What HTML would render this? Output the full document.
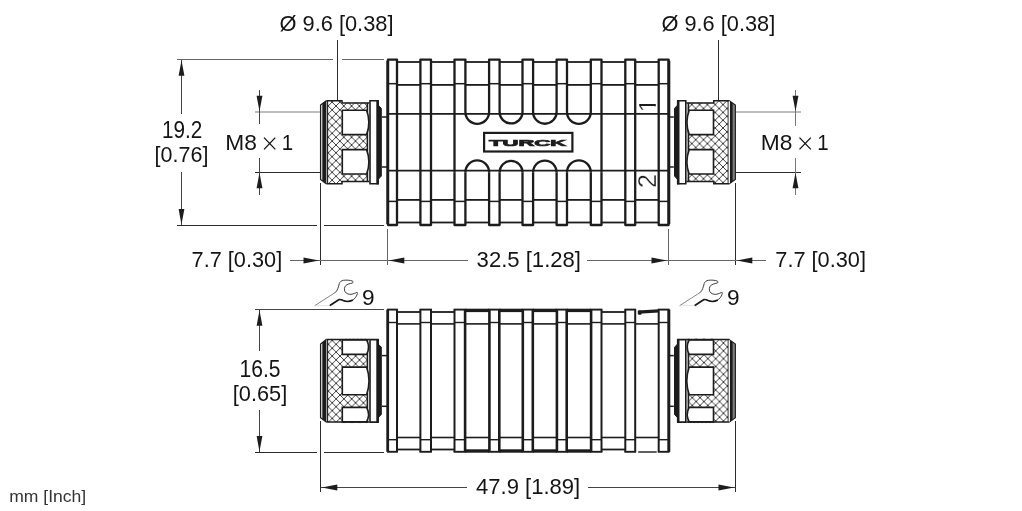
<!DOCTYPE html>
<html lang="en"><head><meta charset="utf-8"><title>Dimension drawing</title>
<style>html,body{margin:0;padding:0;background:#fff}svg{display:block;filter:grayscale(1)}</style></head>
<body>
<svg width="1022" height="511" viewBox="0 0 1022 511">
<defs>
<pattern id="kn" width="7.8" height="7.8" patternUnits="userSpaceOnUse" patternTransform="translate(336,106)"><rect width="7.8" height="7.8" fill="#fff"/><path d="M0,0L7.8,7.8M7.8,0L0,7.8" stroke="#1c1c1c" stroke-width="0.85"/></pattern>
<pattern id="knr" width="7.8" height="7.8" patternUnits="userSpaceOnUse" patternTransform="translate(336.7,108.5)"><rect width="7.8" height="7.8" fill="#fff"/><path d="M0,0L7.8,7.8M7.8,0L0,7.8" stroke="#1c1c1c" stroke-width="0.85"/></pattern>
<pattern id="kn2" width="7.8" height="7.8" patternUnits="userSpaceOnUse" patternTransform="translate(336.1,344.3)"><rect width="7.8" height="7.8" fill="#fff"/><path d="M0,0L7.8,7.8M7.8,0L0,7.8" stroke="#1c1c1c" stroke-width="0.85"/></pattern>
<pattern id="kn2r" width="7.8" height="7.8" patternUnits="userSpaceOnUse" patternTransform="translate(336.25,346.95)"><rect width="7.8" height="7.8" fill="#fff"/><path d="M0,0L7.8,7.8M7.8,0L0,7.8" stroke="#1c1c1c" stroke-width="0.85"/></pattern>
<clipPath id="c1"><rect x="636" y="95" width="17.6" height="20"/><rect x="653" y="104.0" width="4" height="2.3"/></clipPath>
</defs>
<rect width="1022" height="511" fill="#fff"/>
<g id="topbody">
<line x1="397" y1="62.0" x2="420.4" y2="62.0" stroke="#1c1c1c" stroke-width="1.8" />
<line x1="397" y1="222.5" x2="420.4" y2="222.5" stroke="#1c1c1c" stroke-width="1.8" />
<line x1="397" y1="84.9" x2="420.4" y2="84.9" stroke="#1c1c1c" stroke-width="1.8" />
<line x1="397" y1="199.9" x2="420.4" y2="199.9" stroke="#1c1c1c" stroke-width="1.8" />
<line x1="431" y1="62.0" x2="454.5" y2="62.0" stroke="#1c1c1c" stroke-width="1.8" />
<line x1="431" y1="222.5" x2="454.5" y2="222.5" stroke="#1c1c1c" stroke-width="1.8" />
<line x1="431" y1="84.9" x2="454.5" y2="84.9" stroke="#1c1c1c" stroke-width="1.8" />
<line x1="431" y1="199.9" x2="454.5" y2="199.9" stroke="#1c1c1c" stroke-width="1.8" />
<line x1="465.4" y1="62.0" x2="489.1" y2="62.0" stroke="#1c1c1c" stroke-width="1.8" />
<line x1="465.4" y1="222.5" x2="489.1" y2="222.5" stroke="#1c1c1c" stroke-width="1.8" />
<line x1="465.4" y1="84.9" x2="489.1" y2="84.9" stroke="#1c1c1c" stroke-width="1.8" />
<line x1="465.4" y1="199.9" x2="489.1" y2="199.9" stroke="#1c1c1c" stroke-width="1.8" />
<line x1="499.6" y1="62.0" x2="522.5" y2="62.0" stroke="#1c1c1c" stroke-width="1.8" />
<line x1="499.6" y1="222.5" x2="522.5" y2="222.5" stroke="#1c1c1c" stroke-width="1.8" />
<line x1="499.6" y1="84.9" x2="522.5" y2="84.9" stroke="#1c1c1c" stroke-width="1.8" />
<line x1="499.6" y1="199.9" x2="522.5" y2="199.9" stroke="#1c1c1c" stroke-width="1.8" />
<line x1="533.1" y1="62.0" x2="556.6" y2="62.0" stroke="#1c1c1c" stroke-width="1.8" />
<line x1="533.1" y1="222.5" x2="556.6" y2="222.5" stroke="#1c1c1c" stroke-width="1.8" />
<line x1="533.1" y1="84.9" x2="556.6" y2="84.9" stroke="#1c1c1c" stroke-width="1.8" />
<line x1="533.1" y1="199.9" x2="556.6" y2="199.9" stroke="#1c1c1c" stroke-width="1.8" />
<line x1="567" y1="62.0" x2="590.8" y2="62.0" stroke="#1c1c1c" stroke-width="1.8" />
<line x1="567" y1="222.5" x2="590.8" y2="222.5" stroke="#1c1c1c" stroke-width="1.8" />
<line x1="567" y1="84.9" x2="590.8" y2="84.9" stroke="#1c1c1c" stroke-width="1.8" />
<line x1="567" y1="199.9" x2="590.8" y2="199.9" stroke="#1c1c1c" stroke-width="1.8" />
<line x1="601.5" y1="62.0" x2="625.3" y2="62.0" stroke="#1c1c1c" stroke-width="1.8" />
<line x1="601.5" y1="222.5" x2="625.3" y2="222.5" stroke="#1c1c1c" stroke-width="1.8" />
<line x1="601.5" y1="84.9" x2="625.3" y2="84.9" stroke="#1c1c1c" stroke-width="1.8" />
<line x1="601.5" y1="199.9" x2="625.3" y2="199.9" stroke="#1c1c1c" stroke-width="1.8" />
<line x1="635.2" y1="62.0" x2="658.7" y2="62.0" stroke="#1c1c1c" stroke-width="1.8" />
<line x1="635.2" y1="222.5" x2="658.7" y2="222.5" stroke="#1c1c1c" stroke-width="1.8" />
<line x1="635.2" y1="84.9" x2="658.7" y2="84.9" stroke="#1c1c1c" stroke-width="1.8" />
<line x1="635.2" y1="199.9" x2="658.7" y2="199.9" stroke="#1c1c1c" stroke-width="1.8" />
<line x1="388" y1="113.9" x2="668.6" y2="113.9" stroke="#1c1c1c" stroke-width="1.9" />
<line x1="388" y1="170.6" x2="668.6" y2="170.6" stroke="#1c1c1c" stroke-width="1.9" />
<path d="M388,225.0 V59.6 H397 V225.0 Z" fill="none" stroke="#1c1c1c" stroke-width="2.3" stroke-linejoin="round"/>
<line x1="388" y1="83.7" x2="397" y2="83.7" stroke="#1c1c1c" stroke-width="1.5" />
<line x1="388" y1="201.4" x2="397" y2="201.4" stroke="#1c1c1c" stroke-width="1.5" />
<path d="M420.4,225.0 V59.6 H431 V225.0 Z" fill="none" stroke="#1c1c1c" stroke-width="2.3" stroke-linejoin="round"/>
<line x1="420.4" y1="83.7" x2="431" y2="83.7" stroke="#1c1c1c" stroke-width="1.5" />
<line x1="420.4" y1="201.4" x2="431" y2="201.4" stroke="#1c1c1c" stroke-width="1.5" />
<path d="M454.5,112.0 V59.6 H465.4 V112.0" fill="none" stroke="#1c1c1c" stroke-width="2.3" stroke-linejoin="round"/>
<path d="M454.5,172.3 V225.0 H465.4 V172.3" fill="none" stroke="#1c1c1c" stroke-width="2.3" stroke-linejoin="round"/>
<line x1="454.5" y1="112.0" x2="454.5" y2="172.3" stroke="#1c1c1c" stroke-width="2.3" />
<line x1="454.5" y1="83.7" x2="465.4" y2="83.7" stroke="#1c1c1c" stroke-width="1.5" />
<line x1="454.5" y1="201.4" x2="465.4" y2="201.4" stroke="#1c1c1c" stroke-width="1.5" />
<path d="M489.1,112.0 V59.6 H499.6 V112.0" fill="none" stroke="#1c1c1c" stroke-width="2.3" stroke-linejoin="round"/>
<path d="M489.1,172.3 V225.0 H499.6 V172.3" fill="none" stroke="#1c1c1c" stroke-width="2.3" stroke-linejoin="round"/>
<line x1="489.1" y1="83.7" x2="499.6" y2="83.7" stroke="#1c1c1c" stroke-width="1.5" />
<line x1="489.1" y1="201.4" x2="499.6" y2="201.4" stroke="#1c1c1c" stroke-width="1.5" />
<path d="M522.5,112.0 V59.6 H533.1 V112.0" fill="none" stroke="#1c1c1c" stroke-width="2.3" stroke-linejoin="round"/>
<path d="M522.5,172.3 V225.0 H533.1 V172.3" fill="none" stroke="#1c1c1c" stroke-width="2.3" stroke-linejoin="round"/>
<line x1="522.5" y1="83.7" x2="533.1" y2="83.7" stroke="#1c1c1c" stroke-width="1.5" />
<line x1="522.5" y1="201.4" x2="533.1" y2="201.4" stroke="#1c1c1c" stroke-width="1.5" />
<path d="M556.6,112.0 V59.6 H567 V112.0" fill="none" stroke="#1c1c1c" stroke-width="2.3" stroke-linejoin="round"/>
<path d="M556.6,172.3 V225.0 H567 V172.3" fill="none" stroke="#1c1c1c" stroke-width="2.3" stroke-linejoin="round"/>
<line x1="556.6" y1="83.7" x2="567" y2="83.7" stroke="#1c1c1c" stroke-width="1.5" />
<line x1="556.6" y1="201.4" x2="567" y2="201.4" stroke="#1c1c1c" stroke-width="1.5" />
<path d="M590.8,112.0 V59.6 H601.5 V112.0" fill="none" stroke="#1c1c1c" stroke-width="2.3" stroke-linejoin="round"/>
<path d="M590.8,172.3 V225.0 H601.5 V172.3" fill="none" stroke="#1c1c1c" stroke-width="2.3" stroke-linejoin="round"/>
<line x1="601.5" y1="112.0" x2="601.5" y2="172.3" stroke="#1c1c1c" stroke-width="2.3" />
<line x1="590.8" y1="83.7" x2="601.5" y2="83.7" stroke="#1c1c1c" stroke-width="1.5" />
<line x1="590.8" y1="201.4" x2="601.5" y2="201.4" stroke="#1c1c1c" stroke-width="1.5" />
<path d="M625.3,225.0 V59.6 H635.2 V225.0 Z" fill="none" stroke="#1c1c1c" stroke-width="2.3" stroke-linejoin="round"/>
<line x1="625.3" y1="83.7" x2="635.2" y2="83.7" stroke="#1c1c1c" stroke-width="1.5" />
<line x1="625.3" y1="201.4" x2="635.2" y2="201.4" stroke="#1c1c1c" stroke-width="1.5" />
<path d="M658.7,225.0 V59.6 H668.6 V225.0 Z" fill="none" stroke="#1c1c1c" stroke-width="2.3" stroke-linejoin="round"/>
<line x1="658.7" y1="83.7" x2="668.6" y2="83.7" stroke="#1c1c1c" stroke-width="1.5" />
<line x1="658.7" y1="201.4" x2="668.6" y2="201.4" stroke="#1c1c1c" stroke-width="1.5" />
<line x1="387.7" y1="60.6" x2="387.7" y2="224.0" stroke="#1c1c1c" stroke-width="2.8" />
<line x1="668.9" y1="60.6" x2="668.9" y2="224.0" stroke="#1c1c1c" stroke-width="2.8" />
<path d="M465.4,112 A11.850000000000023,11.850000000000023 0 0 0 489.1,112" fill="none" stroke="#1c1c1c" stroke-width="2.3" />
<path d="M465.4,172.3 A11.850000000000023,11.850000000000023 0 0 1 489.1,172.3" fill="none" stroke="#1c1c1c" stroke-width="2.3" />
<path d="M499.6,112 A11.449999999999989,11.449999999999989 0 0 0 522.5,112" fill="none" stroke="#1c1c1c" stroke-width="2.3" />
<path d="M499.6,172.3 A11.449999999999989,11.449999999999989 0 0 1 522.5,172.3" fill="none" stroke="#1c1c1c" stroke-width="2.3" />
<path d="M533.1,112 A11.75,11.75 0 0 0 556.6,112" fill="none" stroke="#1c1c1c" stroke-width="2.3" />
<path d="M533.1,172.3 A11.75,11.75 0 0 1 556.6,172.3" fill="none" stroke="#1c1c1c" stroke-width="2.3" />
<path d="M567,112 A11.899999999999977,11.899999999999977 0 0 0 590.8,112" fill="none" stroke="#1c1c1c" stroke-width="2.3" />
<path d="M567,172.3 A11.899999999999977,11.899999999999977 0 0 1 590.8,172.3" fill="none" stroke="#1c1c1c" stroke-width="2.3" />
<rect x="484.1" y="132.9" width="88.3" height="18.6" fill="none" stroke="#1c1c1c" stroke-width="2.2" rx="0"/>
<text x="489" y="145.8" font-family="Liberation Sans, sans-serif" font-weight="bold" font-size="9.4" textLength="77.2" lengthAdjust="spacingAndGlyphs" fill="#1c1c1c" stroke="#1c1c1c" stroke-width="0.7">TURCK</text>
<g clip-path="url(#c1)"><text transform="translate(656.2,112.2) rotate(-90)" font-family="Liberation Sans, sans-serif" font-size="24.5" fill="#1c1c1c" stroke="#fff" stroke-width="0.3">1</text></g>
<text transform="translate(656.2,187.9) rotate(-90)" font-family="Liberation Sans, sans-serif" font-size="25" fill="#1c1c1c" stroke="#fff" stroke-width="0.3">2</text>
</g>
<g id="tcl">
<rect x="327.5" y="100.69999999999999" width="14.8" height="83.10000000000001" fill="url(#kn)"/>
<rect x="342" y="102.49999999999999" width="26" height="79.50000000000001" fill="url(#kn)"/>
<line x1="367.4" y1="102.89999999999999" x2="367.4" y2="181.6" stroke="#1c1c1c" stroke-width="1.6" />
<path d="M342.3,110.2 H366.6 Q371.186,122.4 366.6,134.6 H342.3 Z" fill="#fff" stroke="#1c1c1c" stroke-width="1.6" />
<path d="M342.3,149.6 H366.6 Q371.186,161.8 366.6,174.0 H342.3 Z" fill="#fff" stroke="#1c1c1c" stroke-width="1.6" />
<path d="M326.3,100.69999999999999 H342 V102.89999999999999 H369.5 M326.3,183.8 H342 V181.6 H369.5" fill="none" stroke="#1c1c1c" stroke-width="1.5" />
<line x1="327.6" y1="100.69999999999999" x2="327.6" y2="183.8" stroke="#1c1c1c" stroke-width="1.1" />
<path d="M326.3,100.69999999999999 L320.6,105.1 V179.4 L326.3,183.8" fill="none" stroke="#1c1c1c" stroke-width="1.3" />
<path d="M322.3,103.8 L326.4,100.69999999999999 V183.8 L322.3,180.70000000000002Z" fill="#1c1c1c" stroke="none" stroke-width="0" />
<path d="M370,100.69999999999999 H378 V183.8 H370 Z" fill="#fff" stroke="#1c1c1c" stroke-width="1.6" />
<rect x="376.3" y="100.1" width="2.6" height="84.30000000000001" fill="#1c1c1c"/>
<path d="M378.5,105.39999999999999 L381.3,108.39999999999999 V176.1 L378.5,179.1 Z" fill="#1c1c1c" stroke="#1c1c1c" stroke-width="1" />
<line x1="382" y1="117" x2="387.5" y2="117" stroke="#1c1c1c" stroke-width="1.5" />
<line x1="382" y1="167" x2="387.5" y2="167" stroke="#1c1c1c" stroke-width="1.5" />
</g>
<g id="tcr" transform="translate(1055.8,0) scale(-1,1)">
<rect x="327.5" y="100.69999999999999" width="14.8" height="83.10000000000001" fill="url(#knr)"/>
<rect x="342" y="102.49999999999999" width="26" height="79.50000000000001" fill="url(#knr)"/>
<line x1="367.4" y1="102.89999999999999" x2="367.4" y2="181.6" stroke="#1c1c1c" stroke-width="1.6" />
<path d="M342.3,110.2 H366.6 Q371.186,122.4 366.6,134.6 H342.3 Z" fill="#fff" stroke="#1c1c1c" stroke-width="1.6" />
<path d="M342.3,149.6 H366.6 Q371.186,161.8 366.6,174.0 H342.3 Z" fill="#fff" stroke="#1c1c1c" stroke-width="1.6" />
<path d="M326.3,100.69999999999999 H342 V102.89999999999999 H369.5 M326.3,183.8 H342 V181.6 H369.5" fill="none" stroke="#1c1c1c" stroke-width="1.5" />
<line x1="327.6" y1="100.69999999999999" x2="327.6" y2="183.8" stroke="#1c1c1c" stroke-width="1.1" />
<path d="M326.6,100.69999999999999 L320.4,105.1 V179.4 L326.6,183.8" fill="#7d7d7d" stroke="#1c1c1c" stroke-width="1.1" />
<path d="M323.2,103.1 L325.9,101.0 V183.5 L323.2,181.4Z" fill="#1c1c1c" stroke="none" stroke-width="0" />
<rect x="325.9" y="101.3" width="1.2" height="81.9" fill="#fff"/>
<path d="M370,100.69999999999999 H378 V183.8 H370 Z" fill="#fff" stroke="#1c1c1c" stroke-width="1.6" />
<rect x="376.3" y="100.1" width="2.6" height="84.30000000000001" fill="#1c1c1c"/>
<path d="M378.5,105.39999999999999 L381.3,108.39999999999999 V176.1 L378.5,179.1 Z" fill="#1c1c1c" stroke="#1c1c1c" stroke-width="1" />
<line x1="382" y1="117" x2="387.5" y2="117" stroke="#1c1c1c" stroke-width="1.5" />
<line x1="382" y1="167" x2="387.5" y2="167" stroke="#1c1c1c" stroke-width="1.5" />
</g>
<g id="sidebody">
<line x1="397" y1="312.0" x2="420.4" y2="312.0" stroke="#1c1c1c" stroke-width="1.8" />
<line x1="397" y1="449.5" x2="420.4" y2="449.5" stroke="#1c1c1c" stroke-width="1.8" />
<line x1="397" y1="323.9" x2="420.4" y2="323.9" stroke="#1c1c1c" stroke-width="1.6" />
<line x1="397" y1="437.5" x2="420.4" y2="437.5" stroke="#1c1c1c" stroke-width="1.6" />
<line x1="431" y1="312.0" x2="454.5" y2="312.0" stroke="#1c1c1c" stroke-width="1.8" />
<line x1="431" y1="449.5" x2="454.5" y2="449.5" stroke="#1c1c1c" stroke-width="1.8" />
<line x1="431" y1="323.9" x2="454.5" y2="323.9" stroke="#1c1c1c" stroke-width="1.6" />
<line x1="431" y1="437.5" x2="454.5" y2="437.5" stroke="#1c1c1c" stroke-width="1.6" />
<rect x="465.4" y="308.70000000000005" width="23.700000000000045" height="3.4" fill="#1c1c1c"/>
<rect x="465.4" y="449.3" width="23.700000000000045" height="3.4" fill="#1c1c1c"/>
<line x1="465.4" y1="323.9" x2="489.1" y2="323.9" stroke="#1c1c1c" stroke-width="1.6" />
<line x1="465.4" y1="437.5" x2="489.1" y2="437.5" stroke="#1c1c1c" stroke-width="1.6" />
<rect x="499.6" y="308.70000000000005" width="22.899999999999977" height="3.4" fill="#1c1c1c"/>
<rect x="499.6" y="449.3" width="22.899999999999977" height="3.4" fill="#1c1c1c"/>
<line x1="499.6" y1="323.9" x2="522.5" y2="323.9" stroke="#1c1c1c" stroke-width="1.6" />
<line x1="499.6" y1="437.5" x2="522.5" y2="437.5" stroke="#1c1c1c" stroke-width="1.6" />
<rect x="533.1" y="308.70000000000005" width="23.5" height="3.4" fill="#1c1c1c"/>
<rect x="533.1" y="449.3" width="23.5" height="3.4" fill="#1c1c1c"/>
<line x1="533.1" y1="323.9" x2="556.6" y2="323.9" stroke="#1c1c1c" stroke-width="1.6" />
<line x1="533.1" y1="437.5" x2="556.6" y2="437.5" stroke="#1c1c1c" stroke-width="1.6" />
<rect x="567" y="308.70000000000005" width="23.799999999999955" height="3.4" fill="#1c1c1c"/>
<rect x="567" y="449.3" width="23.799999999999955" height="3.4" fill="#1c1c1c"/>
<line x1="567" y1="323.9" x2="590.8" y2="323.9" stroke="#1c1c1c" stroke-width="1.6" />
<line x1="567" y1="437.5" x2="590.8" y2="437.5" stroke="#1c1c1c" stroke-width="1.6" />
<line x1="601.5" y1="312.0" x2="625.3" y2="312.0" stroke="#1c1c1c" stroke-width="1.8" />
<line x1="601.5" y1="449.5" x2="625.3" y2="449.5" stroke="#1c1c1c" stroke-width="1.8" />
<line x1="601.5" y1="323.9" x2="625.3" y2="323.9" stroke="#1c1c1c" stroke-width="1.6" />
<line x1="601.5" y1="437.5" x2="625.3" y2="437.5" stroke="#1c1c1c" stroke-width="1.6" />
<path d="M638.4000000000001,312.20000000000005 L658.7,310.8" fill="none" stroke="#1c1c1c" stroke-width="3.3" />
<rect x="637.8000000000001" y="310.40000000000003" width="3.8" height="4.4" rx="1.2" fill="#1c1c1c"/>
<line x1="638.2" y1="452.0" x2="656.7" y2="452.0" stroke="#1c1c1c" stroke-width="1.4" />
<line x1="635.2" y1="323.9" x2="658.7" y2="323.9" stroke="#1c1c1c" stroke-width="1.6" />
<line x1="635.2" y1="437.5" x2="658.7" y2="437.5" stroke="#1c1c1c" stroke-width="1.6" />
<line x1="388" y1="309.6" x2="388" y2="451.8" stroke="#1c1c1c" stroke-width="2" />
<line x1="397" y1="309.6" x2="397" y2="451.8" stroke="#1c1c1c" stroke-width="2" />
<line x1="387.1" y1="309.6" x2="397.9" y2="309.6" stroke="#1c1c1c" stroke-width="1.9" />
<line x1="387.1" y1="451.8" x2="397.9" y2="451.8" stroke="#1c1c1c" stroke-width="1.9" />
<line x1="388" y1="322.5" x2="397" y2="322.5" stroke="#1c1c1c" stroke-width="1.4" />
<line x1="388" y1="439.7" x2="397" y2="439.7" stroke="#1c1c1c" stroke-width="1.4" />
<line x1="420.4" y1="309.6" x2="420.4" y2="451.8" stroke="#1c1c1c" stroke-width="2" />
<line x1="431" y1="309.6" x2="431" y2="451.8" stroke="#1c1c1c" stroke-width="2" />
<line x1="419.5" y1="309.6" x2="431.9" y2="309.6" stroke="#1c1c1c" stroke-width="1.9" />
<line x1="419.5" y1="451.8" x2="431.9" y2="451.8" stroke="#1c1c1c" stroke-width="1.9" />
<line x1="420.4" y1="322.5" x2="431" y2="322.5" stroke="#1c1c1c" stroke-width="1.4" />
<line x1="420.4" y1="439.7" x2="431" y2="439.7" stroke="#1c1c1c" stroke-width="1.4" />
<line x1="454.5" y1="309.6" x2="454.5" y2="451.8" stroke="#1c1c1c" stroke-width="2" />
<line x1="465.09999999999997" y1="309.6" x2="465.09999999999997" y2="451.8" stroke="#1c1c1c" stroke-width="2.6" />
<line x1="453.6" y1="309.6" x2="466.29999999999995" y2="309.6" stroke="#1c1c1c" stroke-width="1.9" />
<line x1="453.6" y1="451.8" x2="466.29999999999995" y2="451.8" stroke="#1c1c1c" stroke-width="1.9" />
<line x1="454.5" y1="322.5" x2="465.4" y2="322.5" stroke="#1c1c1c" stroke-width="1.4" />
<line x1="454.5" y1="439.7" x2="465.4" y2="439.7" stroke="#1c1c1c" stroke-width="1.4" />
<line x1="489.40000000000003" y1="309.6" x2="489.40000000000003" y2="451.8" stroke="#1c1c1c" stroke-width="2.6" />
<line x1="499.3" y1="309.6" x2="499.3" y2="451.8" stroke="#1c1c1c" stroke-width="2.6" />
<line x1="488.20000000000005" y1="309.6" x2="500.5" y2="309.6" stroke="#1c1c1c" stroke-width="1.9" />
<line x1="488.20000000000005" y1="451.8" x2="500.5" y2="451.8" stroke="#1c1c1c" stroke-width="1.9" />
<line x1="489.1" y1="322.5" x2="499.6" y2="322.5" stroke="#1c1c1c" stroke-width="1.4" />
<line x1="489.1" y1="439.7" x2="499.6" y2="439.7" stroke="#1c1c1c" stroke-width="1.4" />
<line x1="522.8" y1="309.6" x2="522.8" y2="451.8" stroke="#1c1c1c" stroke-width="2.6" />
<line x1="532.8000000000001" y1="309.6" x2="532.8000000000001" y2="451.8" stroke="#1c1c1c" stroke-width="2.6" />
<line x1="521.6" y1="309.6" x2="534.0" y2="309.6" stroke="#1c1c1c" stroke-width="1.9" />
<line x1="521.6" y1="451.8" x2="534.0" y2="451.8" stroke="#1c1c1c" stroke-width="1.9" />
<line x1="522.5" y1="322.5" x2="533.1" y2="322.5" stroke="#1c1c1c" stroke-width="1.4" />
<line x1="522.5" y1="439.7" x2="533.1" y2="439.7" stroke="#1c1c1c" stroke-width="1.4" />
<line x1="556.9" y1="309.6" x2="556.9" y2="451.8" stroke="#1c1c1c" stroke-width="2.6" />
<line x1="566.7" y1="309.6" x2="566.7" y2="451.8" stroke="#1c1c1c" stroke-width="2.6" />
<line x1="555.7" y1="309.6" x2="567.9" y2="309.6" stroke="#1c1c1c" stroke-width="1.9" />
<line x1="555.7" y1="451.8" x2="567.9" y2="451.8" stroke="#1c1c1c" stroke-width="1.9" />
<line x1="556.6" y1="322.5" x2="567" y2="322.5" stroke="#1c1c1c" stroke-width="1.4" />
<line x1="556.6" y1="439.7" x2="567" y2="439.7" stroke="#1c1c1c" stroke-width="1.4" />
<line x1="591.0999999999999" y1="309.6" x2="591.0999999999999" y2="451.8" stroke="#1c1c1c" stroke-width="2.6" />
<line x1="601.5" y1="309.6" x2="601.5" y2="451.8" stroke="#1c1c1c" stroke-width="2" />
<line x1="589.9" y1="309.6" x2="602.4" y2="309.6" stroke="#1c1c1c" stroke-width="1.9" />
<line x1="589.9" y1="451.8" x2="602.4" y2="451.8" stroke="#1c1c1c" stroke-width="1.9" />
<line x1="590.8" y1="322.5" x2="601.5" y2="322.5" stroke="#1c1c1c" stroke-width="1.4" />
<line x1="590.8" y1="439.7" x2="601.5" y2="439.7" stroke="#1c1c1c" stroke-width="1.4" />
<line x1="625.3" y1="309.6" x2="625.3" y2="451.8" stroke="#1c1c1c" stroke-width="2" />
<line x1="635.2" y1="309.6" x2="635.2" y2="451.8" stroke="#1c1c1c" stroke-width="2" />
<line x1="624.4" y1="309.6" x2="636.1" y2="309.6" stroke="#1c1c1c" stroke-width="1.9" />
<line x1="624.4" y1="451.8" x2="636.1" y2="451.8" stroke="#1c1c1c" stroke-width="1.9" />
<line x1="625.3" y1="322.5" x2="635.2" y2="322.5" stroke="#1c1c1c" stroke-width="1.4" />
<line x1="625.3" y1="439.7" x2="635.2" y2="439.7" stroke="#1c1c1c" stroke-width="1.4" />
<line x1="658.7" y1="309.6" x2="658.7" y2="451.8" stroke="#1c1c1c" stroke-width="2" />
<line x1="668.6" y1="309.6" x2="668.6" y2="451.8" stroke="#1c1c1c" stroke-width="2" />
<line x1="657.8000000000001" y1="309.6" x2="669.5" y2="309.6" stroke="#1c1c1c" stroke-width="1.9" />
<line x1="657.8000000000001" y1="451.8" x2="669.5" y2="451.8" stroke="#1c1c1c" stroke-width="1.9" />
<line x1="658.7" y1="322.5" x2="668.6" y2="322.5" stroke="#1c1c1c" stroke-width="1.4" />
<line x1="658.7" y1="439.7" x2="668.6" y2="439.7" stroke="#1c1c1c" stroke-width="1.4" />
<line x1="387.7" y1="309.6" x2="387.7" y2="451.8" stroke="#1c1c1c" stroke-width="2.8" />
<line x1="668.9" y1="309.6" x2="668.9" y2="451.8" stroke="#1c1c1c" stroke-width="2.8" />
</g>
<g id="scl">
<rect x="327.5" y="339.6" width="14.8" height="82.49999999999999" fill="url(#kn2)"/>
<rect x="342" y="338.6" width="26" height="84.49999999999999" fill="url(#kn2)"/>
<line x1="367.4" y1="339.0" x2="367.4" y2="422.7" stroke="#1c1c1c" stroke-width="1.6" />
<path d="M342.3,339.9 H366.6 Q370.54249999999996,347.15 366.6,354.4 H342.3 Z" fill="#fff" stroke="#1c1c1c" stroke-width="1.6" />
<path d="M342.3,367.1 H366.6 Q371.394,380.9 366.6,394.7 H342.3 Z" fill="#fff" stroke="#1c1c1c" stroke-width="1.6" />
<path d="M342.3,407.4 H366.6 Q370.54249999999996,414.65 366.6,421.9 H342.3 Z" fill="#fff" stroke="#1c1c1c" stroke-width="1.6" />
<path d="M326.3,339.6 H342 V339.6 H369.5 M326.3,422.09999999999997 H342 V422.09999999999997 H369.5" fill="none" stroke="#1c1c1c" stroke-width="1.5" />
<line x1="327.6" y1="339.6" x2="327.6" y2="422.09999999999997" stroke="#1c1c1c" stroke-width="1.1" />
<path d="M326.3,339.6 L320.6,344.0 V417.7 L326.3,422.09999999999997" fill="none" stroke="#1c1c1c" stroke-width="1.3" />
<path d="M322.3,342.7 L326.4,339.6 V422.09999999999997 L322.3,419.0Z" fill="#1c1c1c" stroke="none" stroke-width="0" />
<path d="M370,339.6 H378 V422.09999999999997 H370 Z" fill="#fff" stroke="#1c1c1c" stroke-width="1.6" />
<rect x="376.3" y="339.0" width="2.6" height="83.69999999999999" fill="#1c1c1c"/>
<path d="M378.5,344.3 L381.3,347.3 V414.4 L378.5,417.4 Z" fill="#1c1c1c" stroke="#1c1c1c" stroke-width="1" />
<line x1="382" y1="355.6" x2="387.5" y2="355.6" stroke="#1c1c1c" stroke-width="1.5" />
<line x1="382" y1="406.3" x2="387.5" y2="406.3" stroke="#1c1c1c" stroke-width="1.5" />
</g>
<g id="scr" transform="translate(1055.8,0) scale(-1,1)">
<rect x="327.5" y="339.6" width="14.8" height="82.49999999999999" fill="url(#kn2r)"/>
<rect x="342" y="338.6" width="26" height="84.49999999999999" fill="url(#kn2r)"/>
<line x1="367.4" y1="339.0" x2="367.4" y2="422.7" stroke="#1c1c1c" stroke-width="1.6" />
<path d="M342.3,339.9 H366.6 Q370.54249999999996,347.15 366.6,354.4 H342.3 Z" fill="#fff" stroke="#1c1c1c" stroke-width="1.6" />
<path d="M342.3,367.1 H366.6 Q371.394,380.9 366.6,394.7 H342.3 Z" fill="#fff" stroke="#1c1c1c" stroke-width="1.6" />
<path d="M342.3,407.4 H366.6 Q370.54249999999996,414.65 366.6,421.9 H342.3 Z" fill="#fff" stroke="#1c1c1c" stroke-width="1.6" />
<path d="M326.3,339.6 H342 V339.6 H369.5 M326.3,422.09999999999997 H342 V422.09999999999997 H369.5" fill="none" stroke="#1c1c1c" stroke-width="1.5" />
<line x1="327.6" y1="339.6" x2="327.6" y2="422.09999999999997" stroke="#1c1c1c" stroke-width="1.1" />
<path d="M326.6,339.6 L320.4,344.0 V417.7 L326.6,422.09999999999997" fill="#7d7d7d" stroke="#1c1c1c" stroke-width="1.1" />
<path d="M323.2,342.0 L325.9,339.9 V421.8 L323.2,419.7Z" fill="#1c1c1c" stroke="none" stroke-width="0" />
<rect x="325.9" y="340.2" width="1.2" height="81.29999999999998" fill="#fff"/>
<path d="M370,339.6 H378 V422.09999999999997 H370 Z" fill="#fff" stroke="#1c1c1c" stroke-width="1.6" />
<rect x="376.3" y="339.0" width="2.6" height="83.69999999999999" fill="#1c1c1c"/>
<path d="M378.5,344.3 L381.3,347.3 V414.4 L378.5,417.4 Z" fill="#1c1c1c" stroke="#1c1c1c" stroke-width="1" />
<line x1="382" y1="355.6" x2="387.5" y2="355.6" stroke="#1c1c1c" stroke-width="1.5" />
<line x1="382" y1="406.3" x2="387.5" y2="406.3" stroke="#1c1c1c" stroke-width="1.5" />
</g>
<g id="dims" shape-rendering="crispEdges">
<rect x="177" y="59" width="156" height="1" fill="#666"/>
<rect x="342" y="59" width="42" height="1" fill="#666"/>
<rect x="177" y="225" width="140" height="1" fill="#2c2c2c"/>
<rect x="324" y="225" width="60" height="1" fill="#2c2c2c"/>
<rect x="181" y="60" width="1" height="54" fill="#444"/>
<rect x="181" y="172" width="1" height="53" fill="#444"/>
<rect x="337" y="40" width="1" height="60" fill="#2c2c2c"/>
<rect x="718" y="40" width="1" height="60" fill="#2c2c2c"/>
<rect x="255" y="111" width="65" height="2" fill="#bdbdbd"/>
<rect x="255" y="172" width="65" height="1" fill="#2c2c2c"/>
<rect x="259" y="90" width="1" height="34" fill="#444"/>
<rect x="259" y="158" width="1" height="37" fill="#444"/>
<rect x="736" y="111" width="65" height="2" fill="#bdbdbd"/>
<rect x="736" y="172" width="65" height="1" fill="#2c2c2c"/>
<rect x="795" y="90" width="1" height="36" fill="#777"/>
<rect x="795" y="158" width="1" height="37" fill="#777"/>
<rect x="320" y="183" width="1" height="82" fill="#2c2c2c"/>
<rect x="387" y="229" width="1" height="36" fill="#666"/>
<rect x="668" y="229" width="1" height="36" fill="#666"/>
<rect x="735" y="183" width="1" height="82" fill="#2c2c2c"/>
<rect x="290" y="260" width="178" height="1" fill="#666"/>
<rect x="587" y="260" width="179" height="1" fill="#666"/>
<rect x="255" y="309" width="129" height="1" fill="#444"/>
<rect x="255" y="452" width="62" height="1" fill="#2c2c2c"/>
<rect x="324" y="452" width="60" height="1" fill="#2c2c2c"/>
<rect x="259" y="310" width="1" height="41" fill="#444"/>
<rect x="259" y="410" width="1" height="42" fill="#444"/>
<rect x="320" y="421" width="1" height="71" fill="#2c2c2c"/>
<rect x="735" y="421" width="1" height="71" fill="#2c2c2c"/>
<rect x="321" y="487" width="146" height="1" fill="#444"/>
<rect x="588" y="487" width="147" height="1" fill="#444"/>
</g>
<g id="arrows">
<polygon points="181.5,60.3 178.6,75.8 184.4,75.8" fill="#1c1c1c"/>
<polygon points="181.5,224.6 178.6,209.1 184.4,209.1" fill="#1c1c1c"/>
<polygon points="259.5,111.2 256.6,95.7 262.4,95.7" fill="#1c1c1c"/>
<polygon points="259.5,172.8 256.6,188.3 262.4,188.3" fill="#1c1c1c"/>
<polygon points="795.5,111.2 792.6,95.7 798.4,95.7" fill="#1c1c1c"/>
<polygon points="795.5,172.8 792.6,188.3 798.4,188.3" fill="#1c1c1c"/>
<polygon points="319.0,260.5 303.5,257.6 303.5,263.4" fill="#1c1c1c"/>
<polygon points="388.8,260.5 404.3,257.6 404.3,263.4" fill="#1c1c1c"/>
<polygon points="667.0,260.5 651.5,257.6 651.5,263.4" fill="#1c1c1c"/>
<polygon points="736.8,260.5 752.3,257.6 752.3,263.4" fill="#1c1c1c"/>
<polygon points="259.5,310.3 256.6,325.8 262.4,325.8" fill="#1c1c1c"/>
<polygon points="259.5,451.6 256.6,436.1 262.4,436.1" fill="#1c1c1c"/>
<polygon points="321.8,487.5 337.3,484.6 337.3,490.4" fill="#1c1c1c"/>
<polygon points="734.0,487.5 718.5,484.6 718.5,490.4" fill="#1c1c1c"/>
</g>
<g id="txt" font-family="Liberation Sans, sans-serif" fill="#141414">
<text x="279.5" y="31.3" font-size="22.8" textLength="114.00" lengthAdjust="spacingAndGlyphs" >Ø 9.6 [0.38]</text>
<text x="661.5" y="31.3" font-size="22.8" textLength="113.70" lengthAdjust="spacingAndGlyphs" >Ø 9.6 [0.38]</text>
<text x="162" y="138.1" font-size="23.0" textLength="40.30" lengthAdjust="spacingAndGlyphs" >19.2</text>
<text x="154.6" y="161.8" font-size="22.8" textLength="53.80" lengthAdjust="spacingAndGlyphs" >[0.76]</text>
<text x="225.2" y="149.6" font-size="22.8" textLength="31.60" lengthAdjust="spacingAndGlyphs" >M8</text>
<text x="260.8" y="154.1" font-size="30.5" stroke="#fff" stroke-width="0.9">×</text>
<text x="281.7" y="149.6" font-size="22.8" textLength="11.4" lengthAdjust="spacingAndGlyphs">1</text>
<text x="760.7" y="149.6" font-size="22.8" textLength="31.60" lengthAdjust="spacingAndGlyphs" >M8</text>
<text x="796.3000000000001" y="154.1" font-size="30.5" stroke="#fff" stroke-width="0.9">×</text>
<text x="817.2" y="149.6" font-size="22.8" textLength="11.4" lengthAdjust="spacingAndGlyphs">1</text>
<text x="191.6" y="266.8" font-size="22.8" textLength="90.60" lengthAdjust="spacingAndGlyphs" >7.7 [0.30]</text>
<text x="476.6" y="266.8" font-size="22.8" textLength="104.40" lengthAdjust="spacingAndGlyphs" >32.5 [1.28]</text>
<text x="775.3" y="266.8" font-size="22.8" textLength="90.70" lengthAdjust="spacingAndGlyphs" >7.7 [0.30]</text>
<text x="361.9" y="305.3" font-size="22.8" textLength="12.60" lengthAdjust="spacingAndGlyphs" >9</text>
<text x="727" y="305.3" font-size="22.8" textLength="12.60" lengthAdjust="spacingAndGlyphs" >9</text>
<text x="239.5" y="376.6" font-size="23.0" textLength="41.00" lengthAdjust="spacingAndGlyphs" >16.5</text>
<text x="232.8" y="400.9" font-size="22.8" textLength="54.40" lengthAdjust="spacingAndGlyphs" >[0.65]</text>
<text x="476" y="494.1" font-size="22.8" textLength="104.20" lengthAdjust="spacingAndGlyphs" >47.9 [1.89]</text>
<text x="9.2" y="501.8" font-size="15.8" textLength="77" lengthAdjust="spacingAndGlyphs" fill="#333">mm [Inch]</text>
</g>
<g transform="translate(0,0)">
<path d="M335.4,292.4 C337.6,290.6 338.4,287 339.3,283.6 C340,281.6 341.5,280.6 343.5,280.3 C346.5,279.9 350,280.2 352.3,281 C353.5,281.5 353.2,282.8 352.2,283.1 C349.5,283.6 347.2,284.3 345.8,285.6 C344.3,287.2 344,289.5 345,291.6 C346.3,293.9 349,294.7 352,294.2 C353.8,293.8 355.5,293 356.8,292.4 C357.6,292.3 357.6,293.2 357.2,294.2 C356.4,296.7 354.8,298.8 352.3,300.3 C349.5,301.8 346,301.7 343.2,300.5 C341.8,299.8 340.4,299.2 339,299.6 L330.3,305.3" fill="none" stroke="#2a2a2a" stroke-width="0.9" stroke-linejoin="round" stroke-linecap="round"/>
<path d="M330.3,305.3 L339,299.6 C340.4,299.2 341.8,299.8 343.2,300.5 C346,301.7 349.5,301.8 352.3,300.3" fill="none" stroke="#1a1a1a" stroke-width="1.7" stroke-linecap="round"/>
<line x1="314.7" y1="305.7" x2="335.4" y2="292.4" stroke="#444" stroke-width="0.65" />
<line x1="314.7" y1="305.7" x2="330.3" y2="305.4" stroke="#ccc" stroke-width="0.5" />
</g>
<g transform="translate(364.9,0)">
<path d="M335.4,292.4 C337.6,290.6 338.4,287 339.3,283.6 C340,281.6 341.5,280.6 343.5,280.3 C346.5,279.9 350,280.2 352.3,281 C353.5,281.5 353.2,282.8 352.2,283.1 C349.5,283.6 347.2,284.3 345.8,285.6 C344.3,287.2 344,289.5 345,291.6 C346.3,293.9 349,294.7 352,294.2 C353.8,293.8 355.5,293 356.8,292.4 C357.6,292.3 357.6,293.2 357.2,294.2 C356.4,296.7 354.8,298.8 352.3,300.3 C349.5,301.8 346,301.7 343.2,300.5 C341.8,299.8 340.4,299.2 339,299.6 L330.3,305.3" fill="none" stroke="#2a2a2a" stroke-width="0.9" stroke-linejoin="round" stroke-linecap="round"/>
<path d="M330.3,305.3 L339,299.6 C340.4,299.2 341.8,299.8 343.2,300.5 C346,301.7 349.5,301.8 352.3,300.3" fill="none" stroke="#1a1a1a" stroke-width="1.7" stroke-linecap="round"/>
<line x1="314.7" y1="305.7" x2="335.4" y2="292.4" stroke="#444" stroke-width="0.65" />
<line x1="314.7" y1="305.7" x2="330.3" y2="305.4" stroke="#ccc" stroke-width="0.5" />
</g>
</svg>
</body></html>
